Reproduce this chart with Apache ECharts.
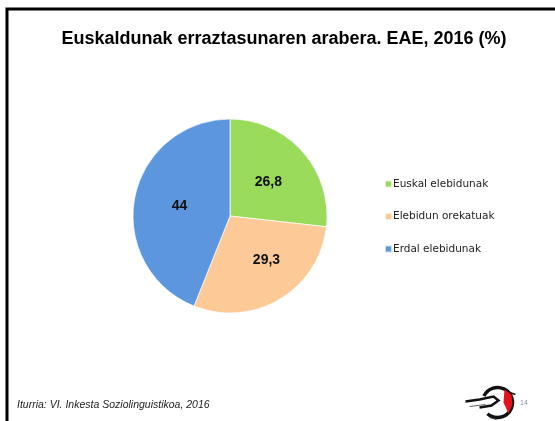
<!DOCTYPE html>
<html><head><meta charset="utf-8">
<script src="https://cdn.jsdelivr.net/npm/echarts@6/dist/echarts.min.js"></script>
<style>html,body{margin:0;padding:0;background:#fff}#c{width:555px;height:421px}</style>
</head><body><div id="c"></div>
<script>
const titleText = 'Euskaldunak erraztasunaren arabera. EAE, 2016 (%)';
const categories = ['Euskal elebidunak', 'Elebidun orekatuak', 'Erdal elebidunak'];
const values = [26.8, 29.3, 44];
const labels = ['26,8', '29,3', '44'];
const colors = ['#9bdb5b', '#fdca97', '#5b96de'];
const sourceText = 'Iturria: VI. Inkesta Soziolinguistikoa, 2016';
const pageNum = '14';

const labelPads = [[4,0,0,0],[18,0,0,20],[4,0,0,0]];
const chart = echarts.init(document.getElementById('c'), null, {renderer:'canvas'});
chart.setOption({
  animation:false,
  title:{text:titleText,left:284,textAlign:'center',top:30,padding:0,
    textStyle:{fontFamily:'Liberation Sans, Arial',fontWeight:'bold',fontSize:18,color:'#000'}},
  legend:{orient:'vertical',left:384,top:177,padding:0,itemWidth:7,itemHeight:7,itemGap:18.5,
    icon:'rect',
    textStyle:{fontFamily:'DejaVu Sans',fontSize:10.5,color:'#222',lineHeight:14,padding:[0,0,0,-4]},
    data:categories},
  graphic:[
    {type:'rect',shape:{x:7,y:9,width:560,height:430},style:{fill:null,stroke:'#000',lineWidth:3},silent:true},
    {type:'text',left:17,top:400,style:{text:sourceText,font:'italic 10.5px Liberation Sans, Arial',fill:'#222'}},
    {type:'text',left:520,top:400,style:{text:pageNum,font:'7px Liberation Sans, Arial',fill:'#8899aa'}},
    {type:'group',left:463,top:385,children:[
      {type:'arc',shape:{cx:32,cy:17,r:15,startAngle:-2.7,endAngle:2.3,clockwise:true},style:{fill:null,stroke:'#111',lineWidth:3.5}},
      {type:'polygon',shape:{points:[[39,4],[46,9],[47,19],[43,28],[38,17]]},style:{fill:'#e0141e'}},
      {type:'polyline',shape:{points:[[0,16],[14,14],[28,11],[33,15],[26,20],[14,22]]},style:{stroke:'#111',fill:null,lineWidth:2.5}},
      {type:'line',shape:{x1:4,y1:21,x2:20,y2:19},style:{stroke:'#666',lineWidth:1.2}},
      {type:'line',shape:{x1:44,y1:7,x2:50,y2:9},style:{stroke:'#111',lineWidth:1.5}},
      {type:'line',shape:{x1:24,y1:32,x2:31,y2:34},style:{stroke:'#444',lineWidth:1}}
    ]}
  ],
  series:[{
    type:'pie',center:[230,216],radius:[0,97],startAngle:90,clockwise:true,
    label:{show:true,position:'inside',fontFamily:'Liberation Sans, Arial',fontWeight:'bold',fontSize:14,color:'#111'},
    labelLine:{show:false},
    itemStyle:{borderColor:'rgba(255,255,255,0.7)',borderWidth:1},
    emphasis:{disabled:true},
    data:categories.map((n,i)=>({name:n,value:values[i],
      itemStyle:{color:colors[i]},
      label:{formatter:labels[i],padding:labelPads[i]}}))
  }]
});
</script></body></html>
